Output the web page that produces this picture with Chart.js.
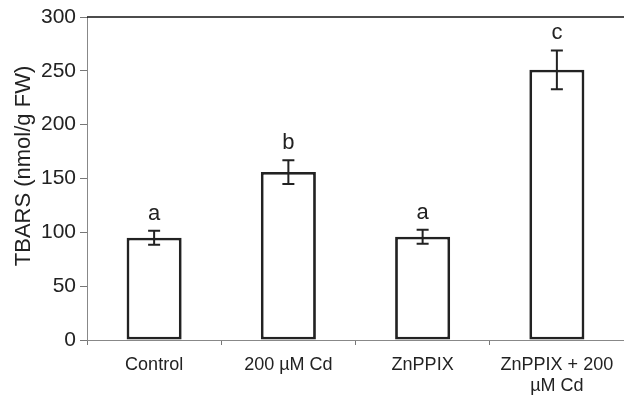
<!DOCTYPE html>
<html><head><meta charset="utf-8">
<script src="https://cdn.jsdelivr.net/npm/chart.js@4"></script>
<style>html,body{margin:0;padding:0;background:#fff}</style>
</head><body>
<canvas id="c" width="624" height="401"></canvas>
<script>
const categories = ['Control', '200 µM Cd', 'ZnPPIX', ['ZnPPIX + 200', 'µM Cd']];
const values = [95, 156, 96, 251];
const errors = [6.5, 11, 6.5, 18];
const letters = ['a', 'b', 'a', 'c'];
const yTicks = [0, 50, 100, 150, 200, 250, 300];
const yTitle = 'TBARS (nmol/g FW)';

const FONT = '"Liberation Sans", Arial, sans-serif';
const TEXT = '#222';

const extras = {
  id: 'extras',
  afterDatasetsDraw(chart) {
    const { ctx, scales: { y }, chartArea } = chart;
    const meta = chart.getDatasetMeta(0);
    ctx.save();
    // top frame line
    ctx.strokeStyle = '#111';
    ctx.lineWidth = 1.5;
    ctx.beginPath();
    ctx.moveTo(chartArea.left, chartArea.top);
    ctx.lineTo(chartArea.right, chartArea.top);
    ctx.stroke();
    meta.data.forEach((bar, i) => {
      const cx = bar.x;
      const t = y.getPixelForValue(values[i] + errors[i]);
      const b = y.getPixelForValue(values[i] - errors[i]);
      const hw = 6;
      ctx.strokeStyle = '#222';
      ctx.lineWidth = 2;
      ctx.beginPath();
      ctx.moveTo(cx, t); ctx.lineTo(cx, b);
      ctx.moveTo(cx - hw, t); ctx.lineTo(cx + hw, t);
      ctx.moveTo(cx - hw, b); ctx.lineTo(cx + hw, b);
      ctx.stroke();
      ctx.fillStyle = TEXT;
      ctx.font = '22px ' + FONT;
      ctx.textAlign = 'center';
      ctx.textBaseline = 'alphabetic';
      ctx.fillText(letters[i], cx, t - 11);
    });
    // y axis title
    ctx.translate(24, 166);
    ctx.rotate(-Math.PI / 2);
    ctx.fillStyle = TEXT;
    ctx.font = '22px ' + FONT;
    ctx.textAlign = 'center';
    ctx.textBaseline = 'middle';
    ctx.fillText(yTitle, 0, 0);
    ctx.restore();
  }
};

new Chart(document.getElementById('c'), {
  type: 'bar',
  data: {
    labels: categories,
    datasets: [{
      data: values,
      backgroundColor: '#ffffff',
      borderColor: '#222',
      borderWidth: 2.8,
      borderSkipped: false,
      categoryPercentage: 1,
      barPercentage: 0.41
    }]
  },
  options: {
    responsive: false,
    devicePixelRatio: 1,
    animation: false,
    layout: { padding: { top: 17, right: 0, left: 0, bottom: 0 } },
    plugins: { legend: { display: false }, tooltip: { enabled: false } },
    scales: {
      x: {
        type: 'category',
        offset: true,
        grid: { display: true, offset: true, drawOnChartArea: false, drawTicks: true, tickLength: 5, color: '#777', lineWidth: 1 },
        border: { display: true, color: '#888', width: 1 },
        ticks: { color: TEXT, font: { family: FONT, size: 18 }, padding: 9, maxRotation: 0, autoSkip: false },
        afterFit(s) { s.height = 61; }
      },
      y: {
        min: 0, max: 300,
        afterBuildTicks(s) { s.ticks = yTicks.map(v => ({ value: v })); },
        grid: { display: true, drawOnChartArea: false, drawTicks: true, tickLength: 7, color: '#777', lineWidth: 1 },
        border: { display: true, color: '#888', width: 1 },
        ticks: { color: TEXT, font: { family: FONT, size: 21 }, padding: 4 },
        afterFit(s) { s.width = 87; }
      }
    }
  },
  plugins: [extras]
});
</script>
</body></html>
